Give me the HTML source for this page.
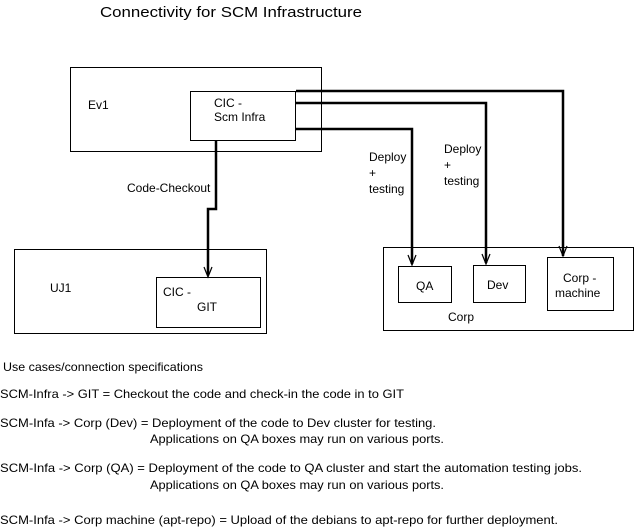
<!DOCTYPE html>
<html><head><meta charset="utf-8"><style>
html,body{margin:0;padding:0;background:#fff;}
svg{display:block;}
text{font-family:"Liberation Sans",sans-serif;font-size:12px;fill:#000;}
</style></head><body>
<svg width="634" height="529" viewBox="0 0 634 529" xmlns="http://www.w3.org/2000/svg">
<rect width="634" height="529" fill="#fff"/>
<text x="100" y="17" style="font-size:15px" textLength="262" lengthAdjust="spacingAndGlyphs">Connectivity for SCM Infrastructure</text>
<g fill="none" stroke="#000" stroke-width="1">
<rect x="70.5" y="67.5" width="251" height="84"/>
<rect x="190.5" y="91.5" width="105" height="49"/>
<rect x="14.5" y="249.5" width="252" height="84"/>
<rect x="156.5" y="277.5" width="104" height="50"/>
<rect x="383.5" y="247.5" width="250" height="83"/>
<rect x="398.5" y="266.5" width="53" height="36"/>
<rect x="473.5" y="265.5" width="52" height="37"/>
<rect x="547.5" y="257.5" width="66" height="53"/>
</g>
<g fill="none" stroke="#000" stroke-width="2.5">
<polyline points="296,91 563,91 563,256"/>
<polyline points="296,103 486,103 486,263"/>
<polyline points="296,129 412,129 412,264"/>
<polyline points="216,141 216,209 208,209 208,275"/>
</g>
<g fill="none" stroke="#000" stroke-width="1.2">
<polyline points="408,255 412,265 416,255"/>
<polyline points="482,254 486,264 490,254"/>
<polyline points="559,246 563,256 567,246"/>
<polyline points="204,267 208,277 212,267"/>
</g>
<text x="88" y="109">Ev1</text>
<text x="214" y="107">CIC -</text>
<text x="214" y="121">Scm Infra</text>
<text x="127" y="192">Code-Checkout</text>
<text x="369" y="161">Deploy</text>
<text x="369" y="177">+</text>
<text x="369" y="193">testing</text>
<text x="444" y="153">Deploy</text>
<text x="444" y="169">+</text>
<text x="444" y="185">testing</text>
<text x="50" y="292">UJ1</text>
<text x="163" y="296">CIC -</text>
<text x="197" y="311">GIT</text>
<text x="416" y="290">QA</text>
<text x="487" y="289">Dev</text>
<text x="563" y="282">Corp -</text>
<text x="555" y="297">machine</text>
<text x="448" y="321">Corp</text>
<text x="3" y="371" textLength="200" lengthAdjust="spacingAndGlyphs">Use cases/connection specifications</text>
<text x="0" y="398" textLength="404" lengthAdjust="spacingAndGlyphs">SCM-Infra -&gt; GIT = Checkout the code and check-in the code in to GIT</text>
<text x="0" y="427" textLength="436" lengthAdjust="spacingAndGlyphs">SCM-Infa -&gt; Corp (Dev) = Deployment of the code to Dev cluster for testing.</text>
<text x="150" y="443" textLength="294" lengthAdjust="spacingAndGlyphs">Applications on QA boxes may run on various ports.</text>
<text x="0" y="472" textLength="582" lengthAdjust="spacingAndGlyphs">SCM-Infa -&gt; Corp (QA) = Deployment of the code to QA cluster and start the automation testing jobs.</text>
<text x="150" y="489" textLength="294" lengthAdjust="spacingAndGlyphs">Applications on QA boxes may run on various ports.</text>
<text x="0" y="524" textLength="558" lengthAdjust="spacingAndGlyphs">SCM-Infa -&gt; Corp machine (apt-repo) = Upload of the debians to apt-repo for further deployment.</text>
</svg>
</body></html>
